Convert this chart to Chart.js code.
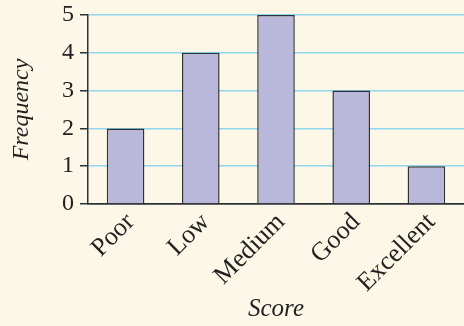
<!DOCTYPE html>
<html>
<head>
    <title>Score Frequency</title>
    <script src="https://cdnjs.cloudflare.com/ajax/libs/Chart.js/4.4.1/chart.umd.min.js"></script>
    <style>
        html, body { margin: 0; padding: 0; background: #fdf7e7; }
        .chart-container { width: 464px; height: 326px; }
    </style>
</head>
<body>
    <div class="chart-container">
        <canvas id="myChart" width="464" height="326"></canvas>
    </div>

    <script>
        // Data
        const categories = ['Poor', 'Low', 'Medium', 'Good', 'Excellent'];
        const frequency = [2, 4, 5, 3, 1];
        const yTicks = [0, 1, 2, 3, 4, 5];

        const serif = "'Liberation Serif', 'Times New Roman', serif";

        const ctx = document.getElementById('myChart').getContext('2d');
        new Chart(ctx, {
            type: 'bar',
            data: {
                labels: categories,
                datasets: [{
                    label: 'Frequency',
                    data: frequency,
                    backgroundColor: '#b9b8da',
                    borderColor: '#2e3236',
                    borderWidth: 1.5,
                    barPercentage: 1,
                    categoryPercentage: 0.5
                }]
            },
            options: {
                responsive: false,
                animation: false,
                layout: { padding: 0 },
                plugins: {
                    legend: { display: false },
                    tooltip: { enabled: false }
                },
                scales: {
                    x: {
                        // plot bottom sits at y = 204 like the original
                        afterFit: function(scale) { scale.height = 122; },
                        grid: { display: false, drawTicks: false },
                        border: { display: true, color: '#2e3236', width: 1.5 },
                        ticks: {
                            color: '#222',
                            font: { family: serif, size: 26 },
                            minRotation: 45,
                            maxRotation: 45,
                            padding: 3,
                            labelOffset: 5
                        },
                        title: {
                            display: true,
                            text: 'Score',
                            color: '#222',
                            font: { family: serif, size: 25, style: 'italic' },
                            padding: { top: 0, bottom: 2 }
                        }
                    },
                    y: {
                        min: 0,
                        max: 5,
                        // y axis line at x = 88, plot top at y = 15
                        afterFit: function(scale) {
                            scale.width = 88;
                            scale.paddingTop = 15;
                            scale.paddingBottom = 0;
                        },
                        afterBuildTicks: function(scale) {
                            scale.ticks = yTicks.map(v => ({ value: v }));
                        },
                        grid: {
                            color: ctx => ctx.tick && ctx.tick.value === 0 ? '#2e3236' : '#8fd6ee',
                            lineWidth: 1.5,
                            tickColor: '#2e3236',
                            tickLength: 8
                        },
                        border: { display: true, color: '#2e3236', width: 1.5 },
                        ticks: {
                            color: '#222',
                            font: { family: serif, size: 24 },
                            padding: 6
                        },
                        title: {
                            display: true,
                            text: 'Frequency',
                            color: '#222',
                            font: { family: serif, size: 24, style: 'italic' },
                            padding: { top: 7, bottom: 0 }
                        }
                    }
                }
            }
        });
    </script>
</body>
</html>
